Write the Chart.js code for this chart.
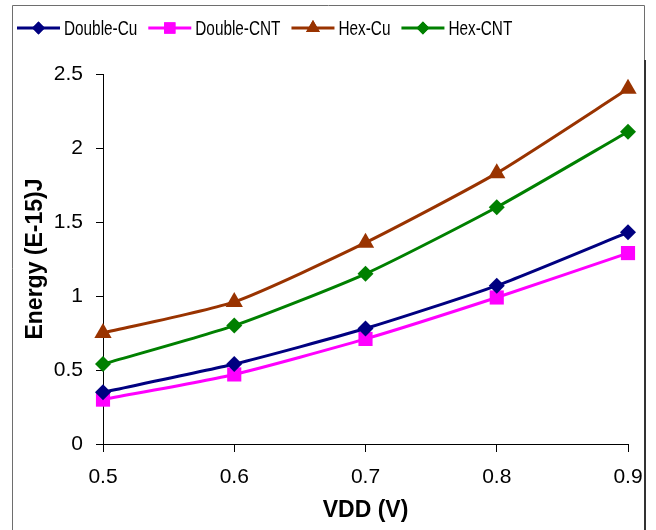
<!DOCTYPE html>
<html>
<head>
<meta charset="utf-8">
<script src="https://cdn.jsdelivr.net/npm/chart.js@4"></script>
<style>
  html, body { margin: 0; padding: 0; background: #fff; }
  #wrap { position: relative; width: 656px; height: 530px; }
</style>
</head>
<body>
<div id="wrap"><canvas id="energyChart" width="656" height="530"></canvas></div>
<script>
const vddLabels = ['0.5', '0.6', '0.7', '0.8', '0.9'];
const doubleCu = [0.35, 0.54, 0.78, 1.07, 1.43];
const doubleCnt = [0.30, 0.47, 0.71, 0.99, 1.29];
const hexCu = [0.75, 0.96, 1.36, 1.83, 2.40];
const hexCnt = [0.54, 0.80, 1.15, 1.60, 2.11];

const FONT = '"Liberation Sans", Arial, sans-serif';

function series(label, data, color, style, radius) {
    return {
        label: label,
        data: data,
        borderColor: color,
        backgroundColor: color,
        borderWidth: 3,
        pointStyle: style,
        pointRadius: radius,
        pointHoverRadius: radius,
        pointBorderWidth: 0,
        fill: false,
        tension: 0.2
    };
}

// outer frame + legend drawn by hand (line with marker, like the original)
const framePlugin = {
    id: 'framePlugin',
    afterDraw: (chart) => {
        const { ctx } = chart;
        ctx.save();
        ctx.strokeStyle = '#6e6e6e';
        ctx.lineWidth = 1;
        ctx.beginPath();
        ctx.moveTo(12.5, 531);
        ctx.lineTo(12.5, 5.5);
        ctx.lineTo(644.5, 5.5);
        ctx.lineTo(644.5, 531);
        ctx.stroke();
        ctx.strokeStyle = '#333';
        ctx.lineWidth = 2;
        ctx.beginPath();
        ctx.moveTo(645, 60);
        ctx.lineTo(645, 531);
        ctx.stroke();

        ctx.font = '21px ' + FONT;
        ctx.textBaseline = 'middle';
        const squeeze = 0.73;
        let x = 17;
        const y = 28;
        chart.data.datasets.forEach(ds => {
            ctx.strokeStyle = ds.borderColor;
            ctx.lineWidth = 3;
            ctx.beginPath();
            ctx.moveTo(x, y);
            ctx.lineTo(x + 43, y);
            ctx.stroke();
            ctx.fillStyle = ds.borderColor;
            Chart.helpers.drawPoint(ctx, {
                pointStyle: ds.pointStyle,
                radius: ds.pointRadius * 0.8,
                borderWidth: 0
            }, x + 21.5, y);
            ctx.fill();
            ctx.fillStyle = '#000';
            ctx.save();
            ctx.translate(x + 47, y + 1);
            ctx.scale(squeeze, 1);
            ctx.fillText(ds.label, 0, 0);
            ctx.restore();
            x += 47 + ctx.measureText(ds.label).width * squeeze + 11;
        });
        ctx.restore();
    }
};

new Chart(document.getElementById('energyChart'), {
    type: 'line',
    plugins: [framePlugin],
    data: {
        labels: vddLabels,
        datasets: [
            series('Double-Cu', doubleCu, '#000080', 'rectRot', 8),
            series('Double-CNT', doubleCnt, '#ff00ff', 'rect', 10),
            series('Hex-Cu', hexCu, '#993300', 'triangle', 10),
            series('Hex-CNT', hexCnt, '#008000', 'rectRot', 8)
        ]
    },
    options: {
        responsive: false,
        animation: false,
        layout: { padding: { left: 22, top: 74, right: 28, bottom: 0 } },
        plugins: {
            legend: { display: false },
            tooltip: { enabled: false }
        },
        scales: {
            x: {
                type: 'category',
                offset: false,
                grid: { drawOnChartArea: false, drawTicks: true, tickLength: 8, color: '#000' },
                border: { color: '#000', width: 1 },
                ticks: { color: '#000', font: { family: FONT, size: 21 }, padding: 13, maxRotation: 0 },
                title: { display: true, text: 'VDD (V)', color: '#000', font: { family: FONT, size: 23, weight: 'bold' }, padding: { top: 0, bottom: 6 } },
                afterFit: (scale) => { scale.height = 86; }
            },
            y: {
                min: 0,
                max: 2.5,
                grid: { drawOnChartArea: false, drawTicks: true, tickLength: 7, color: '#000' },
                border: { color: '#000', width: 1 },
                ticks: {
                    stepSize: 0.5,
                    color: '#000',
                    font: { family: FONT, size: 21 },
                    padding: 13,
                    callback: (v) => String(+v.toFixed(1))
                },
                title: { display: true, text: 'Energy (E-15)J', color: '#000', font: { family: FONT, size: 23, weight: 'bold' }, padding: 0 },
                afterFit: (scale) => { scale.width = 81; }
            }
        }
    }
});
</script>
</body>
</html>
